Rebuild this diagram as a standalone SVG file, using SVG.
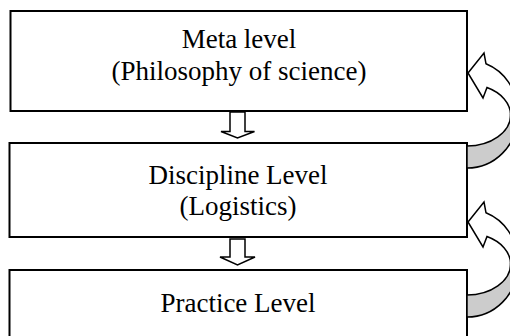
<svg xmlns="http://www.w3.org/2000/svg" xmlns:xlink="http://www.w3.org/1999/xlink" width="510" height="336" viewBox="0 0 510 336">
  <style>
    .box { fill: #ffffff; stroke: #000000; stroke-width: 2; }
    .lbl { font-family: "Liberation Serif", "Times New Roman", serif; font-size: 27px; fill: #000000; text-anchor: middle; }
    .hollow { fill: #ffffff; stroke: #000000; stroke-width: 1.5; stroke-linejoin: miter; }
    .front { fill: #ffffff; stroke: #000000; stroke-width: 1.5; stroke-linejoin: miter; }
    .back { fill: #cccccc; stroke: #000000; stroke-width: 1.5; stroke-linejoin: miter; }
  </style>
  <defs>
    <g id="curved">
      <path class="back" d="M467,146 A43.6,31 0 0 0 510.6,115 L517,118 A50,50 0 0 1 467,168 Z"/>
      <path class="front" d="M468,73 L484,53 L486,63.8 A50,50 0 0 1 517,110 L510.6,115 A43.6,31 0 0 0 487,87.5 L483,98 Z"/>
    </g>
  </defs>
  <rect width="510" height="336" fill="#ffffff"/>
  <g id="node-meta">
    <rect class="box" x="10.5" y="11" width="456.5" height="100"/>
    <text class="lbl" x="239" y="48">Meta level</text>
    <text class="lbl" x="239" y="80">(Philosophy of science)</text>
  </g>
  <g id="node-discipline">
    <rect class="box" x="9.5" y="143" width="457.5" height="94"/>
    <text class="lbl" x="238" y="184">Discipline Level</text>
    <text class="lbl" x="238" y="215">(Logistics)</text>
  </g>
  <g id="node-practice">
    <rect class="box" x="9.5" y="270" width="457.5" height="100"/>
    <text class="lbl" x="238" y="312">Practice Level</text>
  </g>
  <g id="connectors">
    <path class="hollow" d="M230,112 L245,112 L245,131.5 L254.5,131.5 L237.5,138 L221,131.5 L230,131.5 Z"/>
    <path class="hollow" d="M230,239 L245,239 L245,257 L255,257 L237.5,265 L220,257 L230,257 Z"/>
    <use xlink:href="#curved"/>
    <use xlink:href="#curved" transform="translate(0,149)"/>
  </g>
</svg>
